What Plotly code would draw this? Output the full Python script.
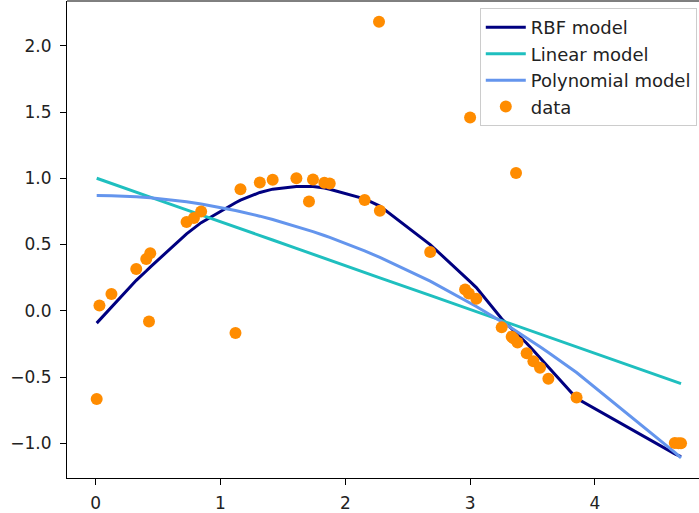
import plotly.graph_objects as go

X = [0.008, 0.03, 0.126, 0.325, 0.405, 0.427, 0.437, 0.728, 0.787, 0.845,
     1.12, 1.16, 1.315, 1.418, 1.608, 1.709, 1.741, 1.832, 1.875, 2.155,
     2.27, 2.277, 2.68, 2.96, 2.99, 3.0, 3.05, 3.253, 3.333, 3.35,
     3.368, 3.38, 3.453, 3.507, 3.56, 3.627, 3.853, 4.64, 4.67, 4.69]

y_data = [-0.666, 0.04, 0.126, 0.315, 0.39, -0.08, 0.435, 0.67, 0.70, 0.75,
          -0.167, 0.918, 0.968, 0.989, 1.0, 0.825, 0.99, 0.966, 0.96, 0.836,
          2.181, 0.755, 0.443, 0.16, 0.13, 1.459, 0.09, -0.125, -0.195, -0.21,
          1.039, -0.24, -0.32, -0.38, -0.43, -0.513, -0.654, -0.997, -0.999, -1.0]

y_rbf = [-0.093, -0.07, 0.03, 0.23, 0.30, 0.32, 0.33, 0.58, 0.625, 0.665,
         0.815, 0.835, 0.893, 0.918, 0.937, 0.939, 0.937, 0.926, 0.917, 0.845,
         0.795, 0.79, 0.50, 0.26, 0.23, 0.22, 0.175, -0.06, -0.135, -0.15,
         -0.165, -0.177, -0.245, -0.30, -0.355, -0.43, -0.66, -1.08, -1.09, -1.10]

y_lin = [1.000, 0.993, 0.961, 0.895, 0.869, 0.862, 0.858, 0.762, 0.742, 0.723,
         0.632, 0.619, 0.568, 0.534, 0.471, 0.437, 0.427, 0.397, 0.382, 0.290,
         0.252, 0.249, 0.116, 0.023, 0.013, 0.010, -0.007, -0.074, -0.100, -0.106,
         -0.112, -0.116, -0.140, -0.158, -0.175, -0.198, -0.272, -0.533, -0.543, -0.549]

y_poly = [0.870, 0.870, 0.869, 0.860, 0.855, 0.854, 0.853, 0.822, 0.814, 0.806,
          0.757, 0.749, 0.714, 0.689, 0.637, 0.607, 0.597, 0.568, 0.554, 0.452,
          0.406, 0.403, 0.224, 0.081, 0.065, 0.060, 0.033, -0.082, -0.130, -0.140,
          -0.151, -0.158, -0.203, -0.237, -0.271, -0.314, -0.466, -1.068, -1.093, -1.110]

x_ticks = [0, 1, 2, 3, 4]
y_ticks = [-1.0, -0.5, 0.0, 0.5, 1.0, 1.5, 2.0]

fig = go.Figure()
fig.add_trace(go.Scatter(x=X, y=y_rbf, mode="lines", name="RBF model",
                         line=dict(color="navy", width=3)))
fig.add_trace(go.Scatter(x=X, y=y_lin, mode="lines", name="Linear model",
                         line=dict(color="#1fbfbf", width=3)))
fig.add_trace(go.Scatter(x=X, y=y_poly, mode="lines", name="Polynomial model",
                         line=dict(color="cornflowerblue", width=3)))
fig.add_trace(go.Scatter(x=X, y=y_data, mode="markers", name="data",
                         marker=dict(color="darkorange", size=12, line=dict(width=0))))

fig.update_layout(
    width=699, height=513,
    margin=dict(l=67, r=0, t=1, b=35, autoexpand=False),
    paper_bgcolor="white", plot_bgcolor="white",
    font=dict(family="DejaVu Sans", size=17, color="#222222"),
    showlegend=True,
    legend=dict(x=0.9965, xanchor="right", y=0.985, yanchor="top",
                bgcolor="rgba(255,255,255,0.85)", bordercolor="#cccccc", borderwidth=1,
                font=dict(family="DejaVu Sans", size=18, color="#222222"),
                tracegroupgap=0, itemwidth=40),
    xaxis=dict(range=[-0.23, 4.834], tickvals=x_ticks, ticktext=[str(v) for v in x_ticks],
               showgrid=False, zeroline=False, showline=True, linecolor="black", linewidth=1,
               ticks="outside", ticklen=6, tickcolor="black", tickwidth=1, automargin=False,
               tickfont=dict(size=17), ticklabelstandoff=4),
    yaxis=dict(range=[-1.2616, 2.3376], tickvals=y_ticks,
               ticktext=[f"{v:.1f}".replace("-", "\u2212") for v in y_ticks],
               showgrid=False, zeroline=False, showline=True, linecolor="black", linewidth=1,
               ticks="outside", ticklen=6, tickcolor="black", tickwidth=1, automargin=False,
               tickfont=dict(size=17), ticklabelstandoff=5),
)
fig.add_shape(type="line", xref="paper", yref="paper", x0=0, x1=1, y0=1, y1=1,
              line=dict(color="black", width=1))

fig.write_html("out.html", post_script="document.body.style.margin='0';",
               config={"displayModeBar": False})
